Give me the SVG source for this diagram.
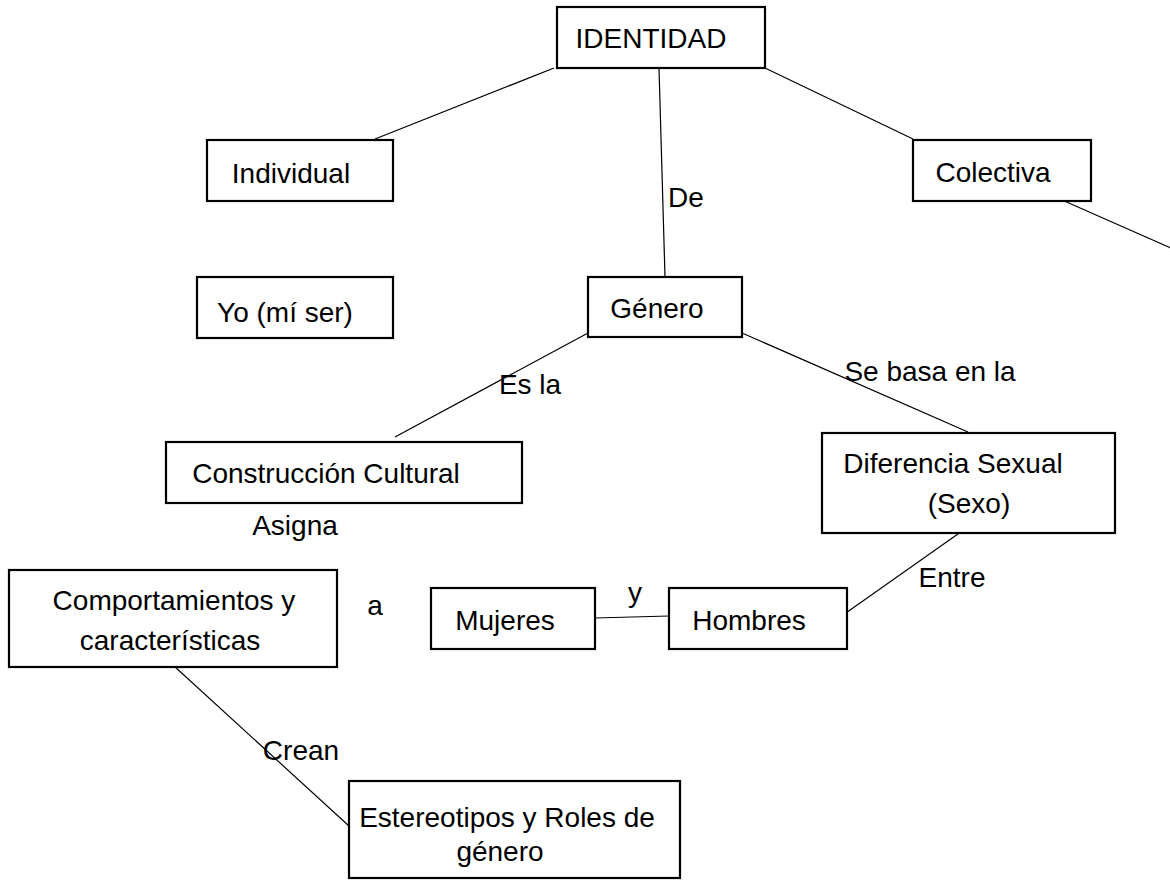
<svg xmlns="http://www.w3.org/2000/svg" width="1170" height="882" viewBox="0 0 1170 882">
<style>
.box{fill:#fff;stroke:#000;stroke-width:2.2}
.t{font-family:"Liberation Sans",Arial,sans-serif;font-size:28px;fill:#000;text-anchor:middle}
.c{stroke:#000;stroke-width:1.2;fill:none}
</style>
<rect width="1170" height="882" fill="#fff"/>
<g id="connectors">
<line class="c" x1="554" y1="68" x2="375" y2="139"/>
<line class="c" x1="765" y1="68" x2="913" y2="139"/>
<line class="c" x1="659" y1="68" x2="665" y2="277"/>
<line class="c" x1="1062" y1="200" x2="1180" y2="252"/>
<line class="c" x1="588" y1="333" x2="395" y2="437"/>
<line class="c" x1="742" y1="333" x2="968" y2="432"/>
<line class="c" x1="965" y1="529" x2="843" y2="615"/>
<line class="c" x1="595" y1="618" x2="669" y2="616"/>
<line class="c" x1="174" y1="666" x2="349" y2="826"/>
<text class="t" x="686" y="207">De</text>
<text class="t" x="530" y="394">Es la</text>
<text class="t" x="930" y="381">Se basa en la</text>
<text class="t" x="295" y="535">Asigna</text>
<text class="t" x="952" y="587">Entre</text>
<text class="t" x="375" y="615">a</text>
<text class="t" x="635" y="602">y</text>
<text class="t" x="301" y="760">Crean</text>
</g>
<g id="identidad"><rect class="box" x="557" y="7" width="208" height="61"/><text class="t" x="651" y="48">IDENTIDAD</text></g>
<g id="individual"><rect class="box" x="207" y="140" width="186" height="61"/><text class="t" x="291" y="183">Individual</text></g>
<g id="colectiva"><rect class="box" x="913" y="140" width="178" height="61"/><text class="t" x="993" y="182">Colectiva</text></g>
<g id="yo"><rect class="box" x="197" y="277" width="196" height="61"/><text class="t" x="285" y="322">Yo (mí ser)</text></g>
<g id="genero"><rect class="box" x="588" y="277" width="154" height="60"/><text class="t" x="657" y="318">Género</text></g>
<g id="construccion"><rect class="box" x="166" y="442" width="356" height="61"/><text class="t" x="326" y="483">Construcción Cultural</text></g>
<g id="diferencia"><rect class="box" x="822" y="433" width="293" height="100"/><text class="t" x="953" y="473">Diferencia Sexual</text><text class="t" x="969" y="513">(Sexo)</text></g>
<g id="comportamientos"><rect class="box" x="9" y="570" width="328" height="97"/><text class="t" x="174" y="610">Comportamientos y</text><text class="t" x="170" y="650">características</text></g>
<g id="mujeres"><rect class="box" x="431" y="588" width="164" height="61"/><text class="t" x="505" y="630">Mujeres</text></g>
<g id="hombres"><rect class="box" x="669" y="588" width="178" height="61"/><text class="t" x="749" y="630">Hombres</text></g>
<g id="estereotipos"><rect class="box" x="349" y="781" width="331" height="97"/><text class="t" x="507" y="827">Estereotipos y Roles de</text><text class="t" x="500" y="861">género</text></g>
</svg>
